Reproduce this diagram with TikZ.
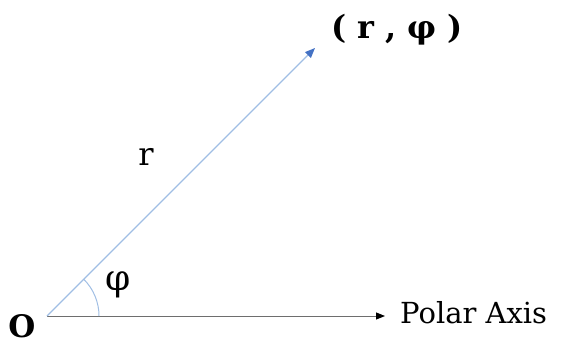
\documentclass[tikz,border=0pt]{standalone}
\usepackage{fontspec}
\setmainfont{DejaVu Serif}
\usetikzlibrary{arrows.meta, positioning, calc}
\definecolor{vecblue}{RGB}{160,190,228}
\definecolor{tipblue}{RGB}{68,114,196}
\definecolor{axisgray}{RGB}{110,110,110}
\tikzset{
    polar/.style={x=1pt, y=1pt},
    vector/.style={draw=vecblue, line width=1.3pt, -{Triangle[length=10pt, width=8pt, color=tipblue]}},
    axisline/.style={draw=axisgray, line width=1pt, -{Triangle[length=9pt, width=7pt, color=black]}},
    anglearc/.style={draw=vecblue, line width=1pt},
    lbl/.style={inner sep=0pt, font=\fontsize{29}{33}\selectfont},
}
\begin{document}
\begin{tikzpicture}[polar]
    \useasboundingbox (0,0) rectangle (561,346);
    \coordinate (O)   at (47,30);
    \coordinate (ax)  at (385,30);
    \coordinate (tip) at (315,298);

    \draw[axisline] (O) -- (ax);
    \draw[vector]   (O) -- (tip);
    \draw[anglearc] ($(O)+(52,0)$) arc[start angle=0, end angle=45, radius=52];

    \node[lbl, font=\fontsize{31}{35}\selectfont\bfseries] (orig) at (22,20)  {O};
    \node[lbl, anchor=base west]                           (axl)  at (400,23) {Polar Axis};
    \node[lbl, font=\fontsize{32}{36}\selectfont\bfseries] (pt)   at (397,316) {( r , φ )};
    \node[lbl, font=\fontsize{32}{36}\selectfont]          (rl)   at (146,189) {r};
    \node[lbl, font=\fontsize{36}{40}\selectfont]          (phil) at (118,61)  {φ};
\end{tikzpicture}
\end{document}
